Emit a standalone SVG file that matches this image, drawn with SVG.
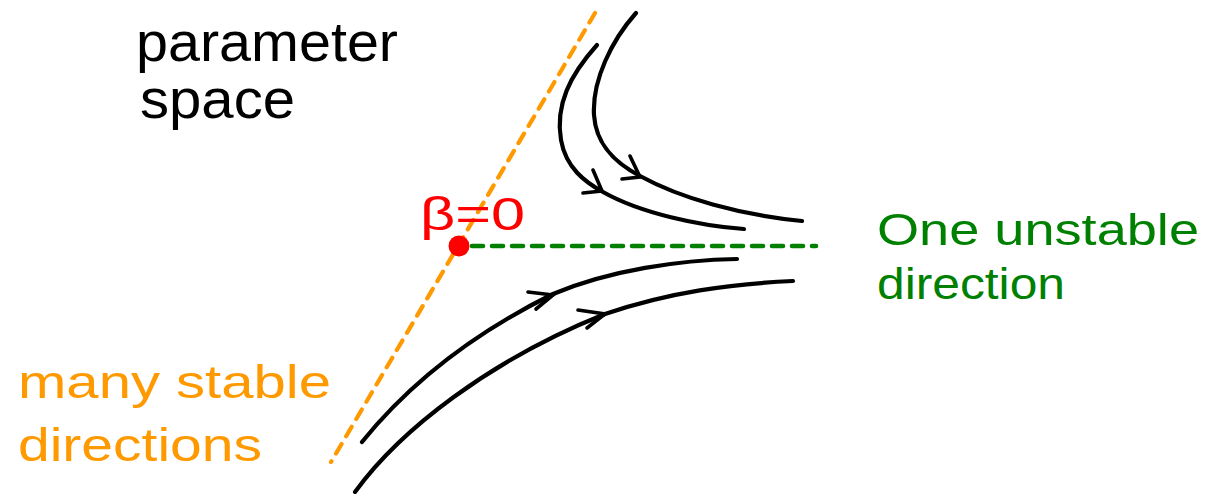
<svg xmlns="http://www.w3.org/2000/svg" width="1207" height="494" viewBox="0 0 1207 494">
<style>
.flow{fill:none;stroke:#000;stroke-width:4.2;stroke-linecap:round;stroke-linejoin:round}
.head{fill:none;stroke:#000;stroke-width:3.6;stroke-linecap:round;stroke-linejoin:miter}
.lbl{font-family:"Liberation Sans","DejaVu Sans",sans-serif}
</style>
<rect width="1207" height="494" fill="#fff"/>
<g id="connectors">
<path id="stable-manifold" d="M595,13 L331,462" fill="none" stroke="#ff9900" stroke-width="4.2" stroke-linecap="round" stroke-dasharray="11 9"/>
<path id="unstable-direction" d="M472,246 L816,246" fill="none" stroke="#008000" stroke-width="4.6" stroke-linecap="round" stroke-dasharray="11 9"/>
<path class="flow" d="M597,45 C570,75 555,105 561,140 C566,168 585,182 603,192 C640,213 700,226 744,229"/>
<path class="head" d="M593,170 L602,191 L583,193"/>
<path class="flow" d="M636,13 C612,40 592,80 594,115 C596,145 615,163 640,176 C680,198 740,215 802,221"/>
<path class="head" d="M630,156 L640,177 L622,179"/>
<path class="flow" d="M362,442 C400,395 460,340 553,294 C610,270 680,260 737,259"/>
<path class="head" d="M528,292 L553,295 L536,309"/>
<path class="flow" d="M355,492 C400,430 490,360 605,314 C670,292 730,284 793,281"/>
<path class="head" d="M578,310 L605,314 L587,328"/>
</g>
<g id="fixed-point">
<circle cx="459" cy="246" r="10.5" fill="#ff0000"/>
<text class="lbl" x="420" y="230" font-size="46" fill="#ff0000" textLength="105" lengthAdjust="spacingAndGlyphs">β=0</text>
</g>
<g id="parameter-space">
<text class="lbl" x="136" y="61" font-size="56" fill="#000" textLength="262" lengthAdjust="spacingAndGlyphs">parameter</text>
<text class="lbl" x="140" y="118" font-size="56" fill="#000" textLength="155" lengthAdjust="spacingAndGlyphs">space</text>
</g>
<g id="unstable-label">
<text class="lbl" x="877" y="245" font-size="44" fill="#008000" textLength="322" lengthAdjust="spacingAndGlyphs">One unstable</text>
<text class="lbl" x="877" y="299" font-size="44" fill="#008000" textLength="188" lengthAdjust="spacingAndGlyphs">direction</text>
</g>
<g id="stable-label">
<text class="lbl" x="18" y="398" font-size="46" fill="#ff9900" textLength="313" lengthAdjust="spacingAndGlyphs">many stable</text>
<text class="lbl" x="18" y="461" font-size="46" fill="#ff9900" textLength="244" lengthAdjust="spacingAndGlyphs">directions</text>
</g>
</svg>
